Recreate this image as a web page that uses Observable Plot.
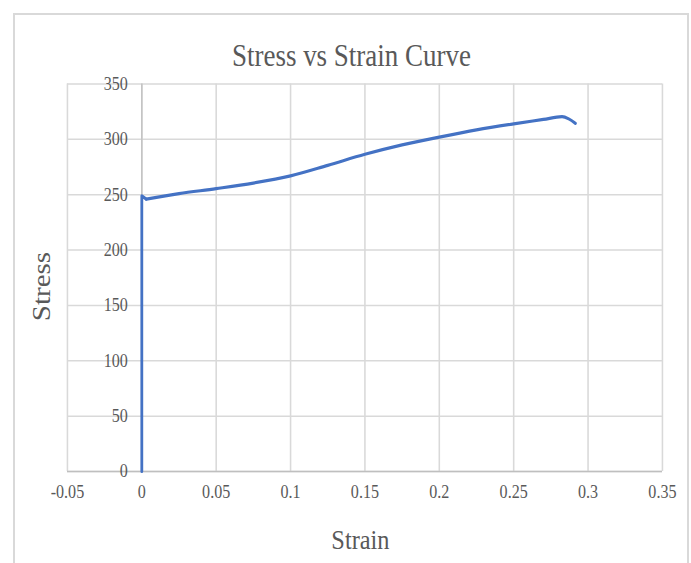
<!DOCTYPE html>
<html><head><meta charset="utf-8">
<script src="https://cdn.jsdelivr.net/npm/d3@7"></script>
<script src="https://cdn.jsdelivr.net/npm/@observablehq/plot@0.6"></script>
<style>
html,body{margin:0;padding:0;background:#fff;overflow:hidden;width:691px;height:563px}
#wrap{position:relative;width:691px;height:563px;overflow:hidden}
#border{position:absolute;left:13px;top:13px;width:676px;height:620px;border:2px solid #d9d9d9;box-sizing:border-box}
#chart{position:absolute;left:0;top:0}
</style></head><body>
<div id="wrap"><div id="border"></div><div id="chart"></div></div>
<script>
const strain = [0, 0, 0.003, 0.025, 0.05, 0.075, 0.1, 0.125, 0.15, 0.175, 0.2, 0.225, 0.25, 0.27, 0.2825, 0.287, 0.2915];
const stress = [0, 249, 246, 251, 255.5, 260.5, 267, 276.5, 286.5, 295, 302, 308.5, 314, 318, 320.5, 318.5, 314.5];
const xTicks = [-0.05, 0, 0.05, 0.1, 0.15, 0.2, 0.25, 0.3, 0.35];
const xTickLabels = ["-0.05", "0", "0.05", "0.1", "0.15", "0.2", "0.25", "0.3", "0.35"];
const yTicks = [0, 50, 100, 150, 200, 250, 300, 350];
const yTickLabels = ["0", "50", "100", "150", "200", "250", "300", "350"];
const titleText = "Stress vs Strain Curve";
const xLabel = "Strain";
const yLabel = "Stress";

const K = 0.87, W = 691, H = 563, VW = W / K;
const L = 67, R = 662, T = 83.5, B = 471;
const data = strain.map((x, i) => ({strain: x, stress: stress[i]}));
const elastic = data.slice(0, 3);   // straight rise and yield dip
const plastic = data.slice(2);      // smoothed hardening part
const grey = "#595959";
const font = "Liberation Serif";

const plot = Plot.plot({
  width: VW, height: H,
  marginLeft: L / K, marginRight: VW - R / K, marginTop: T, marginBottom: H - B,
  x: {domain: [-0.05, 0.35], axis: null},
  y: {domain: [0, 350], axis: null},
  style: {fontFamily: font, background: "transparent", color: grey},
  marks: [
    Plot.gridX(xTicks, {stroke: "#d9d9d9", strokeOpacity: 1, strokeWidth: 1.8}),
    Plot.gridY(yTicks, {stroke: "#d9d9d9", strokeOpacity: 1, strokeWidth: 1.5}),
    Plot.ruleY([0], {stroke: "#bfbfbf", strokeWidth: 1.6}),
    Plot.ruleX([0], {stroke: "#c4c4c4", strokeWidth: 1.8}),
    Plot.line(elastic, {x: "strain", y: "stress", stroke: "#4472C4", strokeWidth: 3.2, curve: "linear", strokeLinejoin: "round"}),
    Plot.line(plastic, {x: "strain", y: "stress", stroke: "#4472C4", strokeWidth: 3.2, curve: "monotone-x"}),
    Plot.text(yTicks, {x: 0, y: d => d, text: (d, i) => yTickLabels[i], textAnchor: "end", lineAnchor: "middle", dx: -16, fontSize: 18.5, fill: grey, fontFamily: font}),
    Plot.text(xTicks, {x: d => d, y: 0, text: (d, i) => xTickLabels[i], lineAnchor: "middle", dy: 21, fontSize: 18.5, fill: grey, fontFamily: font}),
    Plot.text([titleText], {frameAnchor: "top", textAnchor: "middle", lineAnchor: "middle", dx: 351 / K - (L + R) / 2 / K, dy: 56 - T, fontSize: 31, fill: grey, fontFamily: font}),
    Plot.text([xLabel], {frameAnchor: "bottom", textAnchor: "middle", lineAnchor: "middle", dx: (360 - (L + R) / 2) / K, dy: 540 - B, fontSize: 28, fill: grey, fontFamily: font}),
    Plot.text([yLabel], {frameAnchor: "left", rotate: -90, textAnchor: "middle", lineAnchor: "middle", dx: (41 - L) / K, dy: 286 - (T + B) / 2, fontSize: 29, fill: grey, fontFamily: font})
  ]
});
plot.setAttribute("preserveAspectRatio", "none");
plot.style.width = W + "px";
plot.style.height = H + "px";
plot.style.maxWidth = "none";
document.getElementById("chart").appendChild(plot);
</script>
</body></html>
